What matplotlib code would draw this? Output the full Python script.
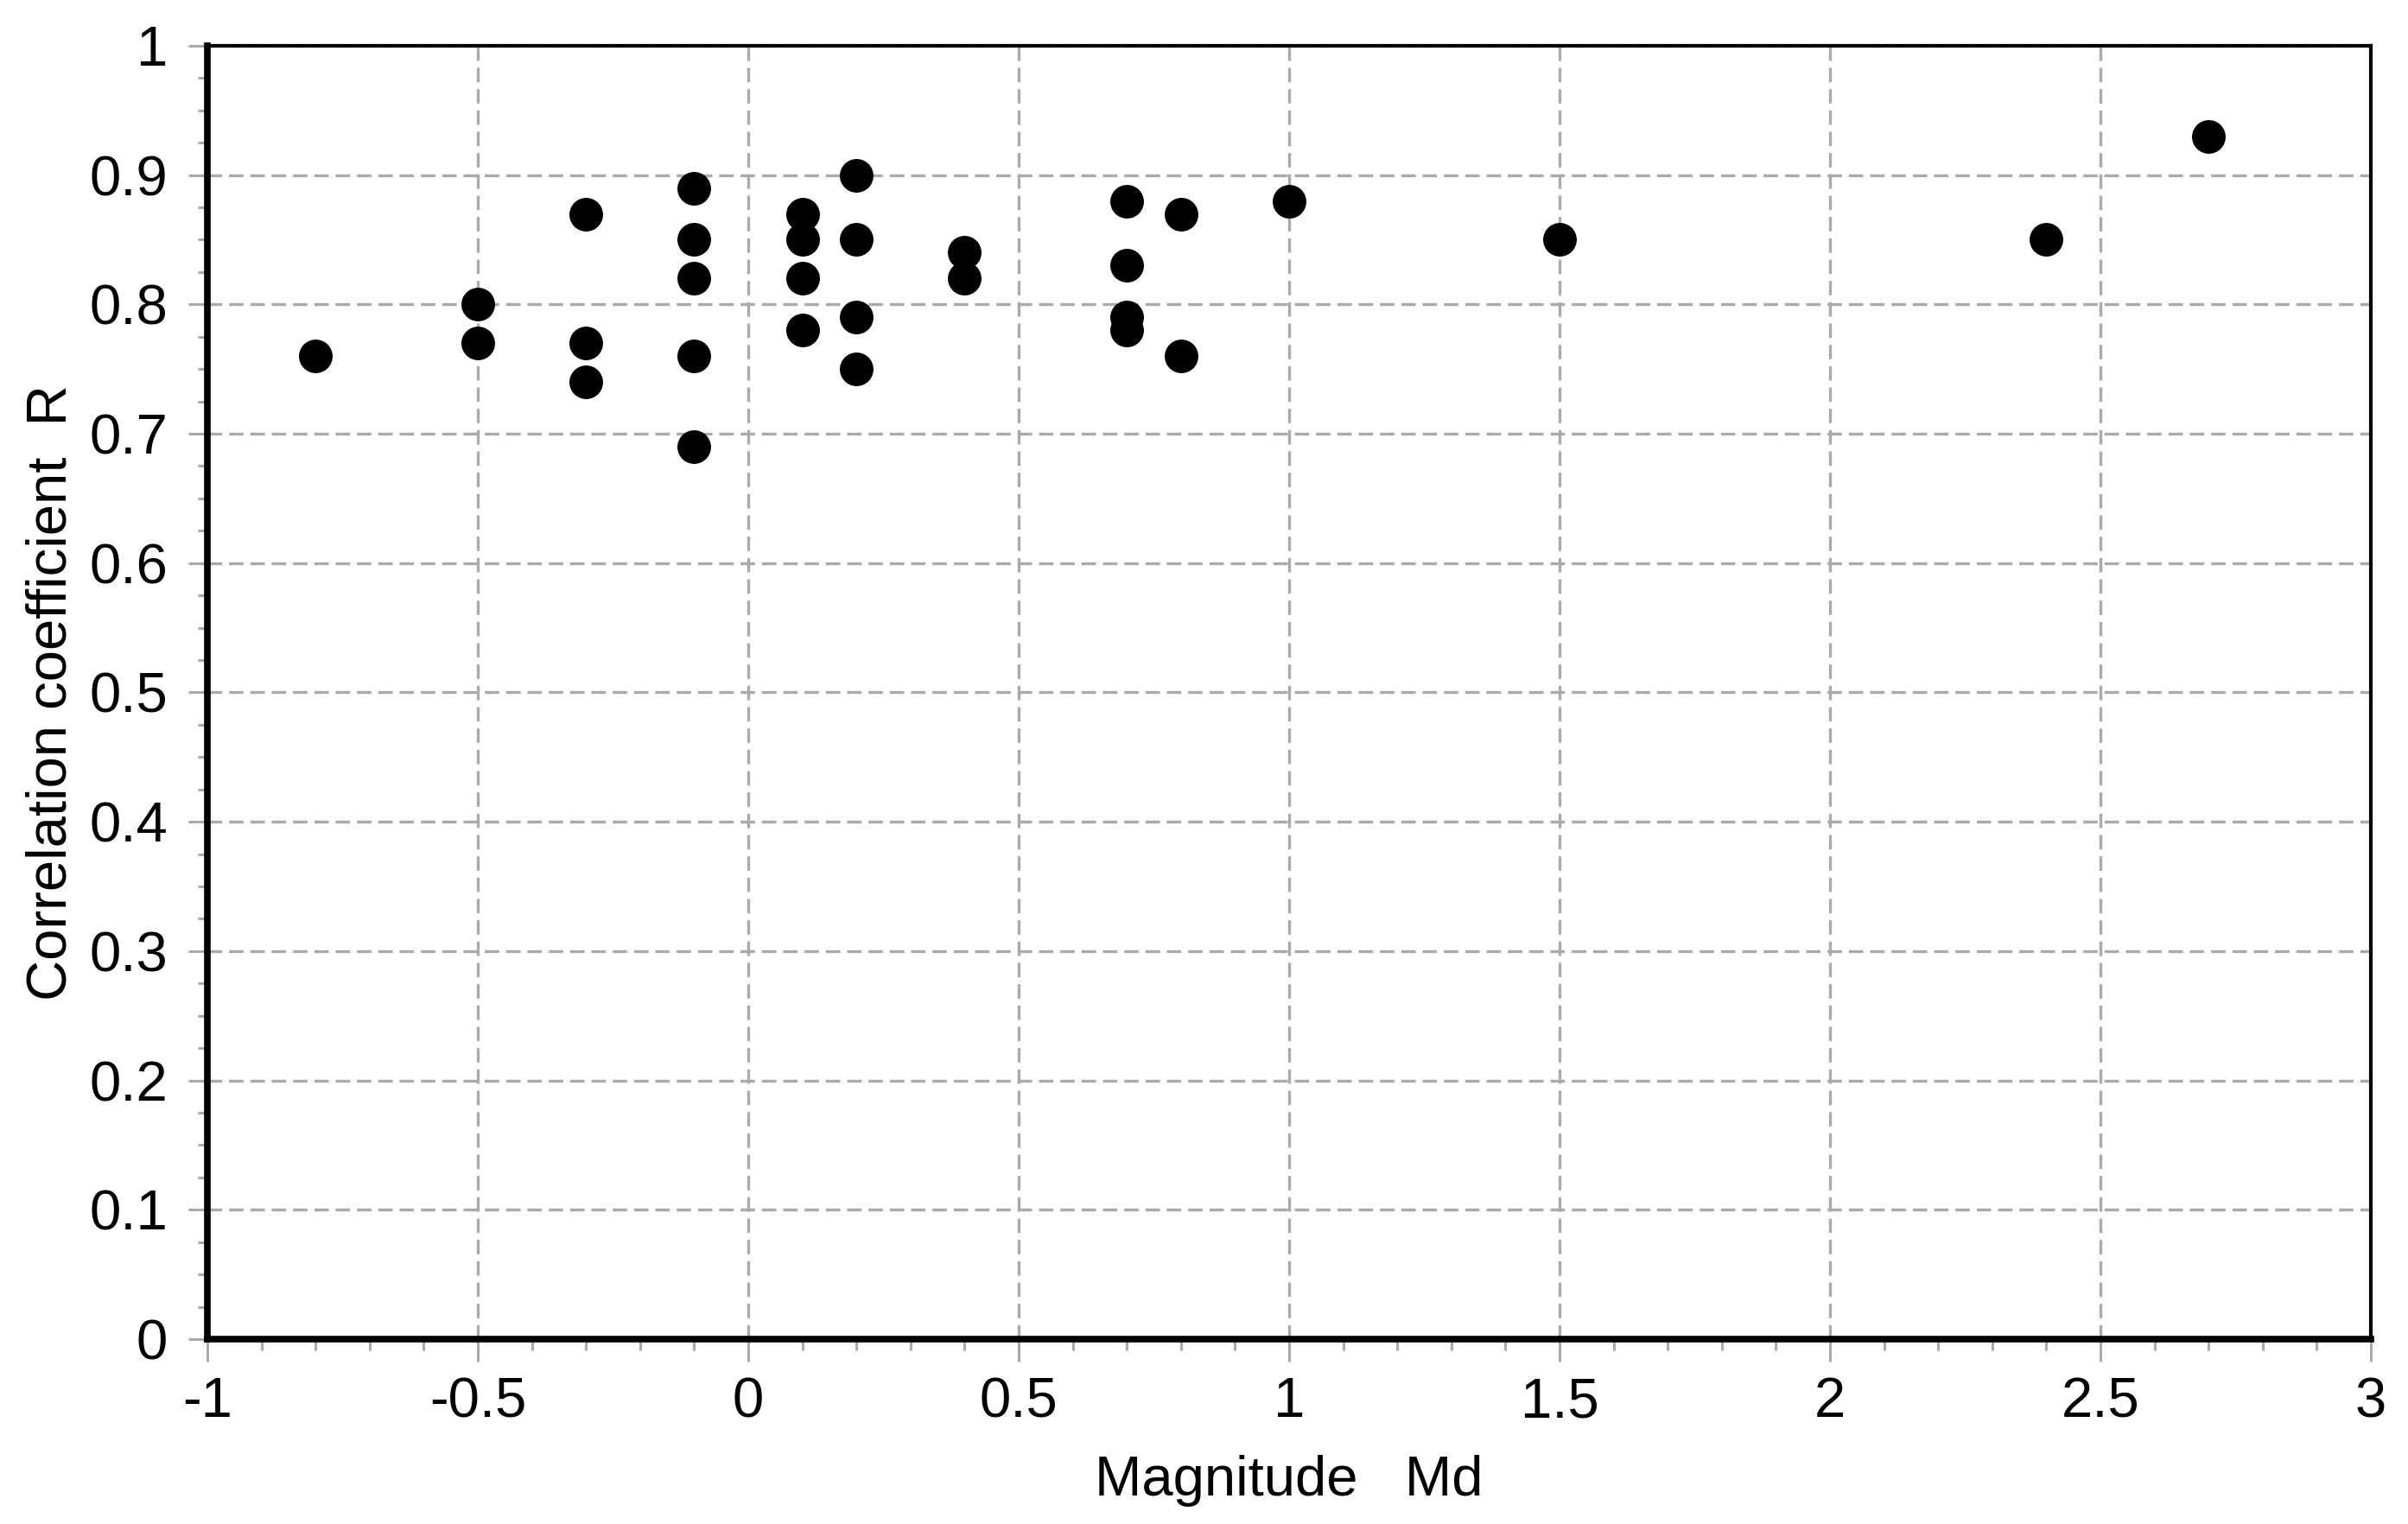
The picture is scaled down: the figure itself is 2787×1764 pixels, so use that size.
import matplotlib
matplotlib.use("Agg")
import matplotlib.pyplot as plt
from matplotlib.ticker import MultipleLocator

plt.rcParams['font.family'] = ['Liberation Sans Narrow', 'Liberation Sans', 'DejaVu Sans']

# magnitude Md vs correlation coefficient R
magnitude = [-0.8,
             -0.5, -0.5,
             -0.3, -0.3, -0.3,
             -0.1, -0.1, -0.1, -0.1, -0.1,
             0.1, 0.1, 0.1, 0.1,
             0.2, 0.2, 0.2, 0.2,
             0.4, 0.4,
             0.7, 0.7, 0.7, 0.7,
             0.8, 0.8,
             1.0, 1.5, 2.4, 2.7]
corr_r = [0.76,
          0.80, 0.77,
          0.87, 0.77, 0.74,
          0.89, 0.85, 0.82, 0.76, 0.69,
          0.87, 0.85, 0.82, 0.78,
          0.90, 0.85, 0.79, 0.75,
          0.84, 0.82,
          0.88, 0.83, 0.79, 0.78,
          0.87, 0.76,
          0.88, 0.85, 0.85, 0.93]

x_ticks = [-1, -0.5, 0, 0.5, 1, 1.5, 2, 2.5, 3]
x_labels = ['-1', '-0.5', '0', '0.5', '1', '1.5', '2', '2.5', '3']
y_ticks = [0, 0.1, 0.2, 0.3, 0.4, 0.5, 0.6, 0.7, 0.8, 0.9, 1]
y_labels = ['0', '0.1', '0.2', '0.3', '0.4', '0.5', '0.6', '0.7', '0.8', '0.9', '1']

grey = '#aaaaaa'
fs = 47

fig = plt.figure(figsize=(27.87, 17.64), dpi=100)
ax = fig.add_axes([0.0861, 0.1213, 0.8985, 0.8487])

ax.plot(magnitude, corr_r, 'o', color='black', markersize=27, zorder=5, clip_on=False)

ax.set_xlim(-1, 3)
ax.set_ylim(0, 1)
ax.set_xticks(x_ticks)
ax.set_xticklabels(x_labels)
ax.set_yticks(y_ticks)
ax.set_yticklabels(y_labels)
ax.xaxis.set_minor_locator(MultipleLocator(0.1))
ax.yaxis.set_minor_locator(MultipleLocator(0.025))

# dashed grey grid at the major ticks
ax.grid(True, which='major', color=grey, linestyle=(0, (5, 2.4)), linewidth=2.4, zorder=1)
ax.set_axisbelow(True)

ax.tick_params(axis='x', which='major', length=19, width=2.2, color=grey, pad=12, labelsize=fs)
ax.tick_params(axis='x', which='minor', length=9, width=2.2, color=grey)
ax.tick_params(axis='y', which='major', length=16, width=2.2, color=grey, pad=17, labelsize=fs)
ax.tick_params(axis='y', which='minor', length=8, width=2.2, color=grey)

ax.spines['left'].set_linewidth(5.5)
ax.spines['bottom'].set_linewidth(5.5)
ax.spines['top'].set_linewidth(3)
ax.spines['right'].set_linewidth(3)
for s in ax.spines.values():
    s.set_zorder(6)

ax.set_xlabel('Magnitude   Md', fontsize=fs, labelpad=22)
ax.set_ylabel('Correlation coefficient  R', fontsize=fs, labelpad=10)

fig.savefig('out.png', dpi=100)
